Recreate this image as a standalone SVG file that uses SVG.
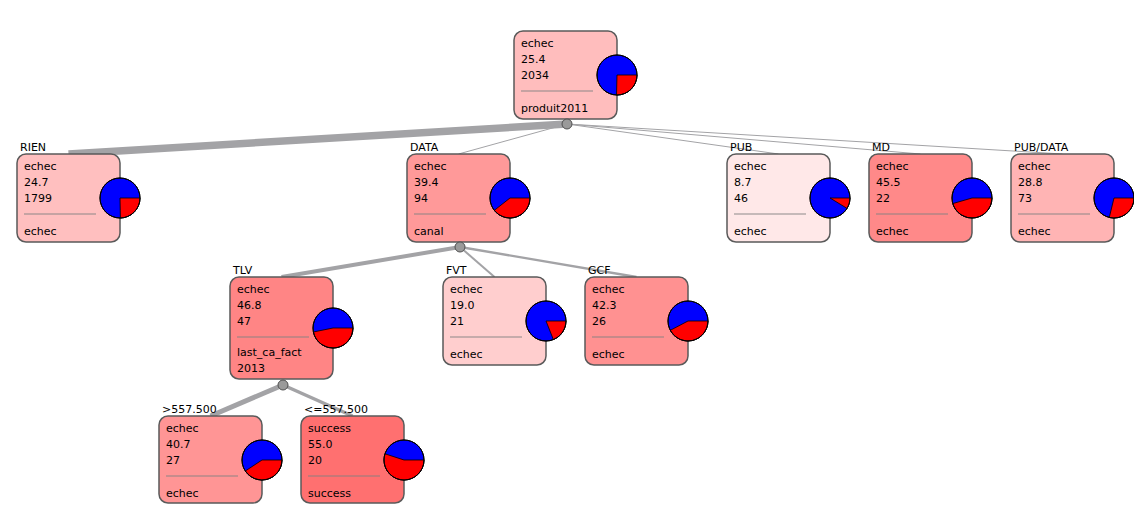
<svg xmlns="http://www.w3.org/2000/svg" width="1134" height="524" viewBox="0 0 1134 524">
<style>
.box{stroke:#5a5a5a;stroke-width:1.5}
.t{font-family:"DejaVu Sans",sans-serif;font-size:11px;fill:#000}
.sep{stroke:#808080;stroke-opacity:0.45;stroke-width:2}
.pb{fill:#0000ff;stroke:#000;stroke-width:1}
.pr{fill:#ff0000;stroke:#000;stroke-width:0.8}
.pc{fill:none;stroke:#000;stroke-width:1}
.e{fill:none;stroke:#a3a3a6;stroke-linecap:butt}
.sp{fill:#9a9a9a;stroke:#505050;stroke-width:1}
</style>
<rect width="1134" height="524" fill="#fff"/>
<g id="connectors">
<line class="e" x1="567" y1="124" x2="68.5" y2="154" stroke-width="7.5"/>
<line class="e" x1="567" y1="124" x2="458.5" y2="154" stroke="#d8d8d8" stroke-width="1"/>
<line class="e" x1="567" y1="124" x2="778.5" y2="154" stroke="#e8e8e8" stroke-width="1"/>
<line class="e" x1="567" y1="124" x2="920.5" y2="154" stroke="#eeeeee" stroke-width="1"/>
<line class="e" x1="567" y1="124" x2="1062.5" y2="154" stroke="#e2e2e2" stroke-width="1"/>
<line class="e" x1="460" y1="247" x2="281.5" y2="277" stroke-width="4"/>
<line class="e" x1="460" y1="247" x2="494.5" y2="277" stroke-width="2"/>
<line class="e" x1="460" y1="247" x2="636.5" y2="277" stroke-width="2.3"/>
<line class="e" x1="283" y1="385" x2="210.5" y2="416" stroke-width="5"/>
<line class="e" x1="283" y1="385" x2="352.5" y2="416" stroke-width="3.5"/>
</g>
<g id="root">
<rect class="box" x="514" y="31" width="103" height="88" rx="9" fill="#ffbdbd"/>
<circle class="pb" cx="617" cy="75" r="20"/>
<path class="pr" d="M617 75 L637 75 A20 20 0 0 1 616.5 95 Z"/>
<circle class="pc" cx="617" cy="75" r="20"/>
<text class="t" x="521" y="47">echec</text>
<text class="t" x="521" y="63">25.4</text>
<text class="t" x="521" y="79">2034</text>
<line class="sep" x1="521" y1="91" x2="593" y2="91"/>
<text class="t" x="521" y="112">produit2011</text>
</g>
<g id="rien">
<rect class="box" x="17" y="154" width="103" height="88" rx="9" fill="#ffbfbf"/>
<circle class="pb" cx="120" cy="198" r="20"/>
<path class="pr" d="M120 198 L140 198 A20 20 0 0 1 120.38 218 Z"/>
<circle class="pc" cx="120" cy="198" r="20"/>
<text class="t" x="20" y="151">RIEN</text>
<text class="t" x="24" y="170">echec</text>
<text class="t" x="24" y="186">24.7</text>
<text class="t" x="24" y="202">1799</text>
<line class="sep" x1="24" y1="214" x2="96" y2="214"/>
<text class="t" x="24" y="235">echec</text>
</g>
<g id="data">
<rect class="box" x="407" y="154" width="103" height="88" rx="9" fill="#ff9999"/>
<circle class="pb" cx="510" cy="198" r="20"/>
<path class="pr" d="M510 198 L530 198 A20 20 0 0 1 494.28 210.36 Z"/>
<circle class="pc" cx="510" cy="198" r="20"/>
<text class="t" x="410" y="151">DATA</text>
<text class="t" x="414" y="170">echec</text>
<text class="t" x="414" y="186">39.4</text>
<text class="t" x="414" y="202">94</text>
<line class="sep" x1="414" y1="214" x2="486" y2="214"/>
<text class="t" x="414" y="235">canal</text>
</g>
<g id="pub">
<rect class="box" x="727" y="154" width="103" height="88" rx="9" fill="#ffe8e8"/>
<circle class="pb" cx="830" cy="198" r="20"/>
<path class="pr" d="M830 198 L850 198 A20 20 0 0 1 847.09 208.4 Z"/>
<circle class="pc" cx="830" cy="198" r="20"/>
<text class="t" x="730" y="151">PUB</text>
<text class="t" x="734" y="170">echec</text>
<text class="t" x="734" y="186">8.7</text>
<text class="t" x="734" y="202">46</text>
<line class="sep" x1="734" y1="214" x2="806" y2="214"/>
<text class="t" x="734" y="235">echec</text>
</g>
<g id="md">
<rect class="box" x="869" y="154" width="103" height="88" rx="9" fill="#ff8989"/>
<circle class="pb" cx="972" cy="198" r="20"/>
<path class="pr" d="M972 198 L992 198 A20 20 0 0 1 952.79 203.58 Z"/>
<circle class="pc" cx="972" cy="198" r="20"/>
<text class="t" x="872" y="151">MD</text>
<text class="t" x="876" y="170">echec</text>
<text class="t" x="876" y="186">45.5</text>
<text class="t" x="876" y="202">22</text>
<line class="sep" x1="876" y1="214" x2="948" y2="214"/>
<text class="t" x="876" y="235">echec</text>
</g>
<g id="pubdata">
<rect class="box" x="1011" y="154" width="103" height="88" rx="9" fill="#ffb4b4"/>
<circle class="pb" cx="1114" cy="198" r="20"/>
<path class="pr" d="M1114 198 L1134 198 A20 20 0 0 1 1109.27 217.43 Z"/>
<circle class="pc" cx="1114" cy="198" r="20"/>
<text class="t" x="1014" y="151">PUB/DATA</text>
<text class="t" x="1018" y="170">echec</text>
<text class="t" x="1018" y="186">28.8</text>
<text class="t" x="1018" y="202">73</text>
<line class="sep" x1="1018" y1="214" x2="1090" y2="214"/>
<text class="t" x="1018" y="235">echec</text>
</g>
<g id="tlv">
<rect class="box" x="230" y="277" width="103" height="102" rx="9" fill="#ff8585"/>
<circle class="pb" cx="333" cy="328" r="20"/>
<path class="pr" d="M333 328 L353 328 A20 20 0 0 1 313.4 331.99 Z"/>
<circle class="pc" cx="333" cy="328" r="20"/>
<text class="t" x="233" y="274">TLV</text>
<text class="t" x="237" y="293">echec</text>
<text class="t" x="237" y="309">46.8</text>
<text class="t" x="237" y="325">47</text>
<line class="sep" x1="237" y1="337" x2="309" y2="337"/>
<text class="t" x="237" y="356">last_ca_fact</text>
<text class="t" x="237" y="372">2013</text>
</g>
<g id="fvt">
<rect class="box" x="443" y="277" width="103" height="88" rx="9" fill="#ffcece"/>
<circle class="pb" cx="546" cy="321" r="20"/>
<path class="pr" d="M546 321 L566 321 A20 20 0 0 1 553.36 339.6 Z"/>
<circle class="pc" cx="546" cy="321" r="20"/>
<text class="t" x="446" y="274">FVT</text>
<text class="t" x="450" y="293">echec</text>
<text class="t" x="450" y="309">19.0</text>
<text class="t" x="450" y="325">21</text>
<line class="sep" x1="450" y1="337" x2="522" y2="337"/>
<text class="t" x="450" y="358">echec</text>
</g>
<g id="gcf">
<rect class="box" x="585" y="277" width="103" height="88" rx="9" fill="#ff9191"/>
<circle class="pb" cx="688" cy="321" r="20"/>
<path class="pr" d="M688 321 L708 321 A20 20 0 0 1 670.29 330.3 Z"/>
<circle class="pc" cx="688" cy="321" r="20"/>
<text class="t" x="588" y="274">GCF</text>
<text class="t" x="592" y="293">echec</text>
<text class="t" x="592" y="309">42.3</text>
<text class="t" x="592" y="325">26</text>
<line class="sep" x1="592" y1="337" x2="664" y2="337"/>
<text class="t" x="592" y="358">echec</text>
</g>
<g id="gt557">
<rect class="box" x="159" y="416" width="103" height="87" rx="9" fill="#ff9595"/>
<circle class="pb" cx="262" cy="460" r="20"/>
<path class="pr" d="M262 460 L282 460 A20 20 0 0 1 245.32 471.03 Z"/>
<circle class="pc" cx="262" cy="460" r="20"/>
<text class="t" x="162" y="413">&gt;557.500</text>
<text class="t" x="166" y="432">echec</text>
<text class="t" x="166" y="448">40.7</text>
<text class="t" x="166" y="464">27</text>
<line class="sep" x1="166" y1="476" x2="238" y2="476"/>
<text class="t" x="166" y="497">echec</text>
</g>
<g id="le557">
<rect class="box" x="301" y="416" width="103" height="87" rx="9" fill="#ff7070"/>
<circle class="pb" cx="404" cy="460" r="20"/>
<path class="pr" d="M404 460 L424 460 A20 20 0 1 1 384.98 453.82 Z"/>
<circle class="pc" cx="404" cy="460" r="20"/>
<text class="t" x="304" y="413">&lt;=557.500</text>
<text class="t" x="308" y="432">success</text>
<text class="t" x="308" y="448">55.0</text>
<text class="t" x="308" y="464">20</text>
<line class="sep" x1="308" y1="476" x2="380" y2="476"/>
<text class="t" x="308" y="497">success</text>
</g>
<g id="splits">
<circle class="sp" cx="567" cy="124" r="5"/>
<circle class="sp" cx="460" cy="247" r="5"/>
<circle class="sp" cx="283" cy="385" r="5"/>
</g>
</svg>
